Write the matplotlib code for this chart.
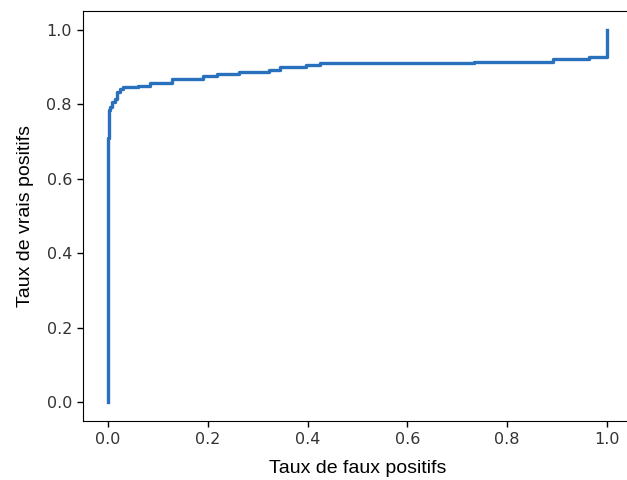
import matplotlib
matplotlib.use("Agg")
import matplotlib.pyplot as plt

# ROC curve step points (start of each level, level value)
fpr = [0.0, 0.0, 0.002, 0.005, 0.009, 0.014, 0.019, 0.024, 0.030, 0.061, 0.084,
       0.128, 0.190, 0.218, 0.263, 0.323, 0.345, 0.397, 0.425, 0.733, 0.892,
       0.964, 1.0]
tpr = [0.0, 0.710, 0.785, 0.793, 0.807, 0.814, 0.834, 0.841, 0.845, 0.850, 0.857,
       0.868, 0.876, 0.882, 0.886, 0.892, 0.899, 0.905, 0.910, 0.914, 0.920,
       0.926, 1.0]

fig = plt.figure(figsize=(6.27, 4.80), dpi=100)
ax = fig.add_axes([83 / 627, 59 / 480, 549 / 627, 410 / 480])

ax.plot(fpr, tpr, drawstyle="steps-post", color="#2970bd", linewidth=2.4)

ax.set_xticks([0.0, 0.2, 0.4, 0.6, 0.8, 1.0])
ax.set_yticks([0.0, 0.2, 0.4, 0.6, 0.8, 1.0])
ax.tick_params(labelsize=11.5, labelcolor="#333333", length=4.5, width=1.0)
ax.spines["right"].set_visible(False)
ax.set_xlabel("Taux de faux positifs", fontsize=14, family="Liberation Sans", labelpad=9)
ax.set_ylabel("Taux de vrais positifs", fontsize=14, family="Liberation Sans", labelpad=9)

fig.savefig("out.png", dpi=100)
